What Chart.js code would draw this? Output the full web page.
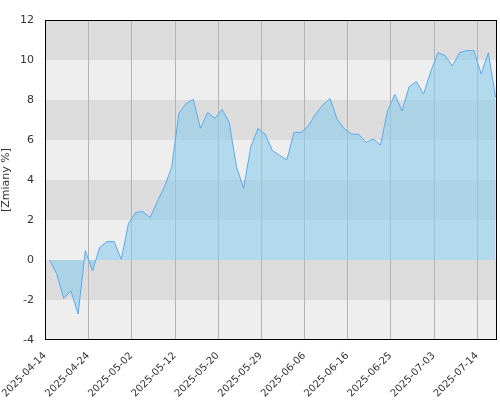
<!DOCTYPE html>
<html><head><meta charset="utf-8">
<script src="https://cdn.jsdelivr.net/npm/chart.js@4"></script>
<style>body{margin:0;background:#fff}#w{width:500px;height:400px}</style>
</head><body><div id="w"><canvas id="c"></canvas></div>
<script>
const values=[0,-0.67,-1.92,-1.55,-2.7,0.47,-0.55,0.63,0.92,0.92,0.03,1.83,2.38,2.42,2.12,2.92,3.67,4.63,7.33,7.83,8.03,6.58,7.37,7.08,7.53,6.87,4.67,3.58,5.67,6.58,6.28,
5.47,5.23,5.0,6.38,6.38,6.7,7.3,7.75,8.08,7.03,6.55,6.3,6.28,5.88,6.05,5.75,7.45,8.28,7.45,8.67,8.92,8.3,9.42,10.37,10.22,9.7,10.37,10.47,10.47,9.3,10.37,8.13];
const tickLabels=['2025-04-14','2025-04-24','2025-05-02','2025-05-12','2025-05-20','2025-05-29','2025-06-06','2025-06-16','2025-06-25','2025-07-03','2025-07-14'];
const tickStart=-0.6, tickStep=6;
const pts=values.map((v,i)=>({x:i,y:v}));
const bands={id:'bands',beforeDatasetsDraw(ch){const {ctx,chartArea:a,scales:{y}}=ch;ctx.save();
for(let v=-4;v<12;v+=2){const t=y.getPixelForValue(v+2),b=y.getPixelForValue(v);ctx.fillStyle=(((v+4)/2)%2===1)?'#dcdcdc':'#eeeeee';ctx.fillRect(a.left,t,a.right-a.left,b-t);}
ctx.strokeStyle='#b4b4b4';ctx.lineWidth=1;const x=ch.scales.x;
for(let k=1;k<tickLabels.length;k++){const px=Math.round(x.getPixelForValue(tickStart+k*tickStep))+0.5;ctx.beginPath();ctx.moveTo(px,a.top);ctx.lineTo(px,a.bottom);ctx.stroke();}
ctx.restore();},
afterDraw(ch){const {ctx,chartArea:a}=ch;ctx.save();ctx.strokeStyle='#000';ctx.lineWidth=1;ctx.strokeRect(a.left+0.5,a.top+0.5,a.right-a.left-1,a.bottom-a.top-1);ctx.restore();}};
new Chart(document.getElementById('c'),{type:'line',
data:{datasets:[{data:pts,borderColor:'#5aaaf0',borderWidth:1,backgroundColor:'rgba(140,205,235,0.6)',fill:'origin',pointRadius:0,tension:0}]},
options:{responsive:true,maintainAspectRatio:false,animation:false,
layout:{padding:{left:0,right:3,top:20,bottom:0}},
plugins:{legend:{display:false},tooltip:{enabled:false}},
scales:{
x:{type:'linear',min:-0.6,max:62.2,grid:{display:false},border:{display:false},
afterBuildTicks(s){s.ticks=tickLabels.map((l,k)=>({value:tickStart+k*tickStep}));},
afterFit(s){s.height=60;},
ticks:{autoSkip:false,maxRotation:45,minRotation:45,padding:2,color:'#333',font:{family:'DejaVu Sans',size:10},callback:(v,i)=>tickLabels[i]}},
y:{min:-4,max:12,grid:{display:false},border:{display:false},
afterFit(s){s.width=45;},
ticks:{stepSize:2,color:'#333',font:{family:'DejaVu Sans',size:11}},
title:{display:true,text:'[Zmiany %]',color:'#333',padding:0,font:{family:'DejaVu Sans',size:11}}}}},
plugins:[bands]});
</script></body></html>
